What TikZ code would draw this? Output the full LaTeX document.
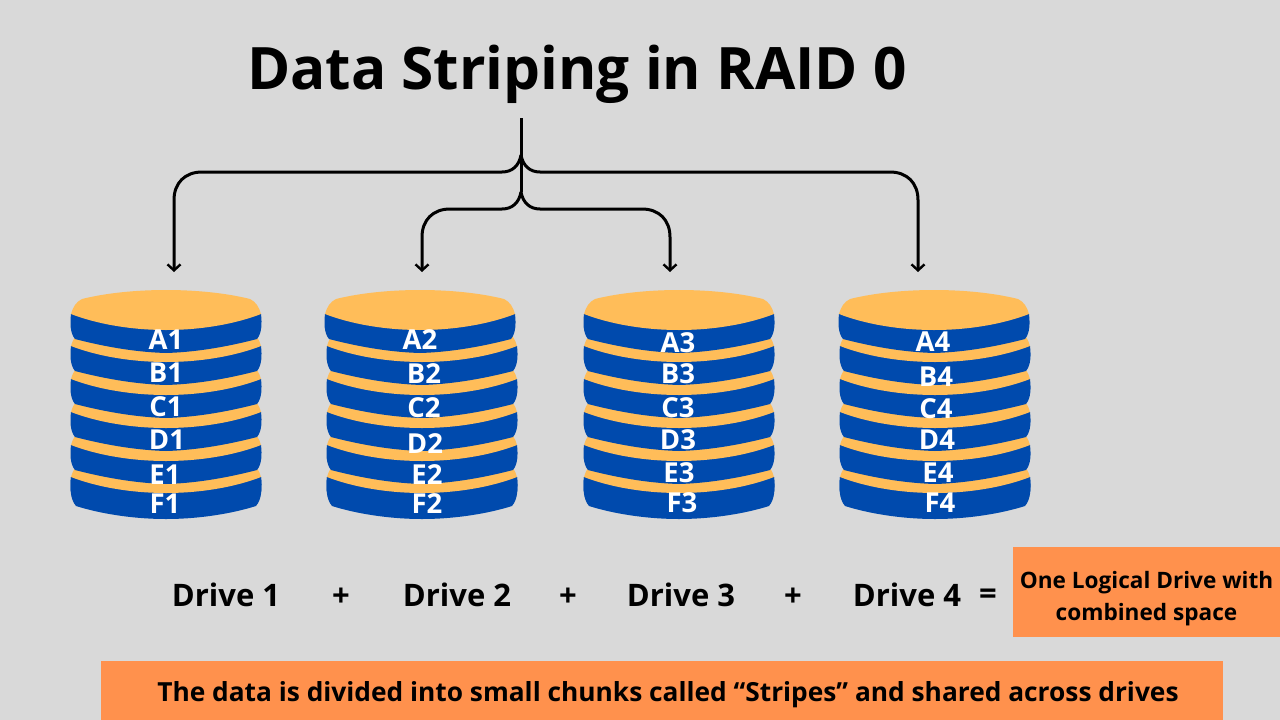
\documentclass[tikz,border=0pt]{standalone}
\usepackage{fontspec}
\setmainfont{Open Sans}
\usetikzlibrary{arrows.meta}
\definecolor{pagegray}{HTML}{D9D9D9}
\definecolor{diskblue}{HTML}{004AAD}
\definecolor{diskgold}{HTML}{FFBD59}
\definecolor{notefill}{HTML}{FF914D}
\newcommand{\fs}[1]{\fontsize{#1}{1.2\dimexpr#1pt\relax}\selectfont\bfseries}
\tikzset{
  diskbase/.pic={
    \fill [diskblue] (-95, 4) .. controls (-96, 15) and (-96, 26) .. (-90, 33)
      .. controls (-68, 40) and (-35, 46) .. (0, 46)
      .. controls (35, 46) and (68, 40) .. (90, 33)
      .. controls (96, 26) and (96, 15) .. (95, 4) -- cycle;
  },
  disk/.pic={
    \fill [diskblue] (-95, 4) .. controls (-96, 13) and (-96, 23) .. (-91, 29)
      .. controls (-68, 35) and (-35, 42) .. (0, 43)
      .. controls (35, 42) and (68, 35) .. (91, 29)
      .. controls (96, 23) and (96, 13) .. (95, 4) -- cycle;
    \fill [diskgold] (-95, 4) .. controls (-93, -3) and (-90, -8) .. (-84, -11)
      .. controls (-60, -17) and (-30, -20) .. (0, -20)
      .. controls (30, -20) and (60, -17) .. (84, -11)
      .. controls (90, -8) and (93, -3) .. (95, 4)
      .. controls (72, 13) and (38, 20) .. (0, 20)
      .. controls (-38, 20) and (-72, 13) .. (-95, 4) -- cycle;
  },
  disklabel/.style={text=white, font=\fs{27.5}, inner sep=0pt},
  drivelabel/.style={font=\fs{31}, inner sep=0pt},
  notebox/.style={fill=notefill, inner sep=0pt},
  link/.style={draw=black, line width=3pt, -{Straight Barb[length=6pt, width=13pt, line width=2.4pt]}},
  stem/.style={draw=black, line width=3pt}
}
\begin{document}
\begin{tikzpicture}[x=1pt, y=-1pt]
  \fill [pagegray] (0, 0) rectangle (1280, 720);
  \useasboundingbox (0, 0) rectangle (1280, 720);

  \node (title) [inner sep=0pt, font=\fs{58.5}] at (577, 74) {Data Striping in RAID 0};

  % disks, lowest layer first
  \foreach \x in {166, 422, 679, 935}
    \pic at (\x, 473) {diskbase};
  \foreach \x/\y in {166/473, 166/441, 166/408, 166/375, 166/342, 166/310,
                     422/473, 422/441, 422/408, 422/375, 422/342, 420/310,
                     679/473, 679/441, 679/408, 679/375, 679/342, 679/310,
                     935/473, 935/441, 935/408, 935/375, 935/342, 934/310}
    \pic at (\x, \y) {disk};

  \foreach \name/\txt/\x/\y in {
      a1/A1/166/340, b1/B1/166/373, c1/C1/166/407, d1/D1/167/440, e1/E1/165/475, f1/F1/165/504,
      a2/A2/420/340, b2/B2/424/374, c2/C2/424/408, d2/D2/425/444, e2/E2/427/475, f2/F2/427/504,
      a3/A3/678/343, b3/B3/678/374, c3/C3/678/408, d3/D3/678/440, e3/E3/679/473, f3/F3/682/503,
      a4/A4/933/342, b4/B4/936/377, c4/C4/936/409, d4/D4/937/440, e4/E4/938/473, f4/F4/940/503}
    \node (\name) [disklabel] at (\x, \y) {\txt};

  % connectors
  \coordinate (top) at (521, 118);
  \coordinate (hubup) at (521, 155);
  \coordinate (hubdown) at (521, 192);
  \coordinate (tip1) at (174, 272);
  \coordinate (tip2) at (422, 272);
  \coordinate (tip3) at (670, 272);
  \coordinate (tip4) at (918, 272);
  \draw [stem] (top) -- (hubdown);
  \draw [link] (hubup) .. controls (519, 166) and (512, 172) .. (502, 172) -- (202, 172)
    .. controls (185, 172) and (174, 183) .. (174, 200) -- (tip1);
  \draw [link] (hubup) .. controls (523, 166) and (530, 172) .. (540, 172) -- (890, 172)
    .. controls (907, 172) and (918, 183) .. (918, 200) -- (tip4);
  \draw [link] (hubdown) .. controls (519, 203) and (512, 209) .. (502, 209) -- (450, 209)
    .. controls (433, 209) and (422, 220) .. (422, 237) -- (tip2);
  \draw [link] (hubdown) .. controls (523, 203) and (530, 209) .. (540, 209) -- (642, 209)
    .. controls (659, 209) and (670, 220) .. (670, 237) -- (tip3);

  % drives
  \node (drive1) [drivelabel] at (226, 595) {Drive 1};
  \node (plus1) [drivelabel] at (341, 597) {+};
  \node (drive2) [drivelabel] at (457, 595) {Drive 2};
  \node (plus2) [drivelabel] at (568, 597) {+};
  \node (drive3) [drivelabel] at (681, 595) {Drive 3};
  \node (plus3) [drivelabel] at (793, 597) {+};
  \node (drive4) [drivelabel] at (907, 595) {Drive 4};
  \node (equals) [drivelabel] at (988, 597) {=};

  \node (logical) [notebox, minimum width=267pt, minimum height=90pt] at (1146.5, 592) {};
  \node (logicaltext) [inner sep=0pt, align=center, font=\fs{22.6}] at (1146.5, 599)
    {One Logical Drive with\\[5pt]combined space};
  \node (note) [notebox, minimum width=1122pt, minimum height=59pt] at (662, 690.5) {};
  \node (notetext) [inner sep=0pt, font=\fs{26.3}] at (668, 695)
    {The data is divided into small chunks called “Stripes” and shared across drives};
\end{tikzpicture}
\end{document}
